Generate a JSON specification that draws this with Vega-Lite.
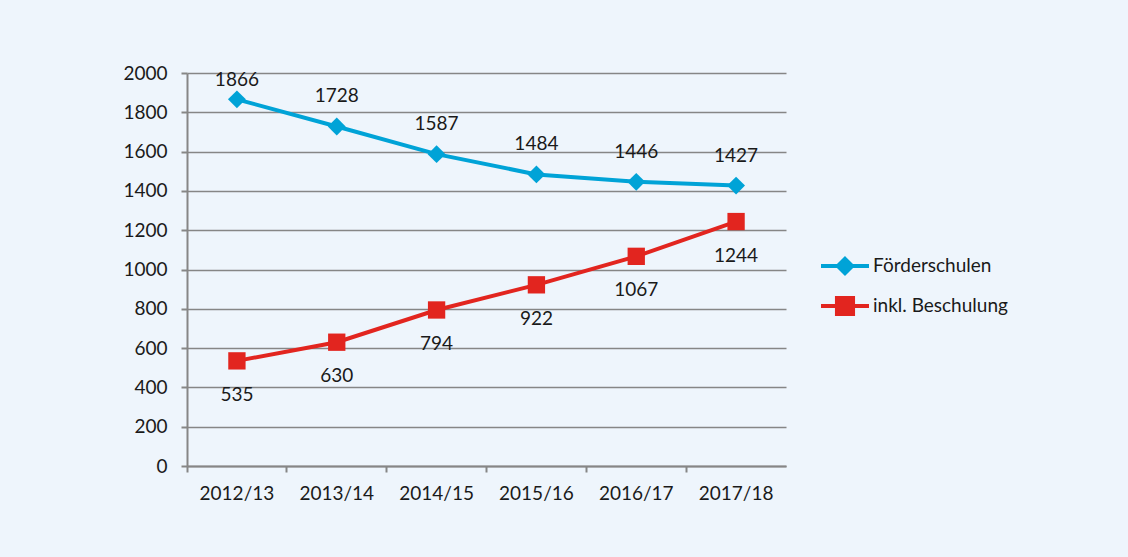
{
  "$schema": "https://vega.github.io/schema/vega-lite/v6.json",
  "width": 599,
  "height": 393,
  "autosize": {"type": "none"},
  "padding": {"left": 187, "top": 73, "right": 342, "bottom": 91},
  "background": "#EEF5FC",
  "config": {
    "view": {"stroke": null},
    "font": "Lato",
    "axis": {"labelFont": "Lato", "labelFontSize": 19, "labelColor": "#1a1a1a", "domainColor": "#868686", "tickColor": "#868686", "gridColor": "#868686", "domainWidth": 2, "tickWidth": 2, "gridWidth": 1.5}
  },
  "data": {
    "values": [
      {"year": "2012/13", "series": "Förderschulen", "value": 1866},
      {"year": "2013/14", "series": "Förderschulen", "value": 1728},
      {"year": "2014/15", "series": "Förderschulen", "value": 1587},
      {"year": "2015/16", "series": "Förderschulen", "value": 1484},
      {"year": "2016/17", "series": "Förderschulen", "value": 1446},
      {"year": "2017/18", "series": "Förderschulen", "value": 1427},
      {"year": "2012/13", "series": "inkl. Beschulung", "value": 535},
      {"year": "2013/14", "series": "inkl. Beschulung", "value": 630},
      {"year": "2014/15", "series": "inkl. Beschulung", "value": 794},
      {"year": "2015/16", "series": "inkl. Beschulung", "value": 922},
      {"year": "2016/17", "series": "inkl. Beschulung", "value": 1067},
      {"year": "2017/18", "series": "inkl. Beschulung", "value": 1244}
    ]
  },
  "encoding": {
    "x": {
      "field": "year", "type": "nominal", "title": null,
      "scale": {"type": "band", "paddingInner": 0, "paddingOuter": 0},
      "axis": {"labelAngle": 0, "bandPosition": 0, "tickSize": 6, "labelPadding": 12, "grid": false, "domain": true}
    },
    "y": {
      "field": "value", "type": "quantitative", "title": null,
      "scale": {"domain": [0, 2000], "nice": false},
      "axis": {"values": [0, 200, 400, 600, 800, 1000, 1200, 1400, 1600, 1800, 2000], "format": "d", "tickSize": 6, "labelPadding": 14, "grid": true}
    }
  },
  "layer": [
    {
      "mark": {"type": "line", "strokeWidth": 4},
      "encoding": {
        "color": {
          "field": "series", "type": "nominal",
          "scale": {"domain": ["Förderschulen", "inkl. Beschulung"], "range": ["#00A3D7", "#E2251F"]},
          "legend": {
            "title": null,
            "orient": "none",
            "legendX": 632,
            "legendY": 179,
            "padding": 0,
            "rowPadding": 7,
            "symbolSize": 576,
            "symbolStrokeWidth": 4,
            "labelFont": "Lato",
            "labelFontSize": 19,
            "labelColor": "#1a1a1a",
            "labelOffset": 26,
            "encode": {
              "symbols": {
                "update": {
                  "shape": {"signal": "datum.value === 'Förderschulen' ? 'M-1,0L3,0M1,-0.6L1.6,0L1,0.6L0.4,0Z' : 'M-1,0L3,0M0.33,-0.67L1.67,-0.67L1.67,0.67L0.33,0.67Z'"},
                  "fill": {"signal": "datum.value === 'Förderschulen' ? '#00A3D7' : '#E2251F'"},
                  "stroke": {"signal": "datum.value === 'Förderschulen' ? '#00A3D7' : '#E2251F'"},
                  "strokeWidth": {"value": 4}
                }
              }
            }
          }
        }
      }
    },
    {
      "transform": [{"filter": "datum.series === 'Förderschulen'"}],
      "mark": {"type": "point", "filled": true, "opacity": 1, "shape": "diamond", "color": "#00A3D7", "size": 320}
    },
    {
      "transform": [{"filter": "datum.series === 'inkl. Beschulung'"}],
      "mark": {"type": "point", "filled": true, "opacity": 1, "shape": "square", "color": "#E2251F", "size": 300}
    },
    {
      "transform": [{"filter": "datum.series === 'Förderschulen' && datum.value > 1800"}],
      "mark": {"type": "text", "font": "Lato", "fontSize": 19, "color": "#1a1a1a", "baseline": "middle", "dy": -19},
      "encoding": {
        "text": {"field": "value", "type": "quantitative"}
      }
    },
    {
      "transform": [{"filter": "datum.series === 'Förderschulen' && datum.value <= 1800"}],
      "mark": {"type": "text", "font": "Lato", "fontSize": 19, "color": "#1a1a1a", "baseline": "middle", "dy": -30},
      "encoding": {
        "text": {"field": "value", "type": "quantitative"}
      }
    },
    {
      "transform": [{"filter": "datum.series === 'inkl. Beschulung'"}],
      "mark": {"type": "text", "font": "Lato", "fontSize": 19, "color": "#1a1a1a", "baseline": "middle", "dy": 34},
      "encoding": {
        "text": {"field": "value", "type": "quantitative"}
      }
    }
  ]
}
